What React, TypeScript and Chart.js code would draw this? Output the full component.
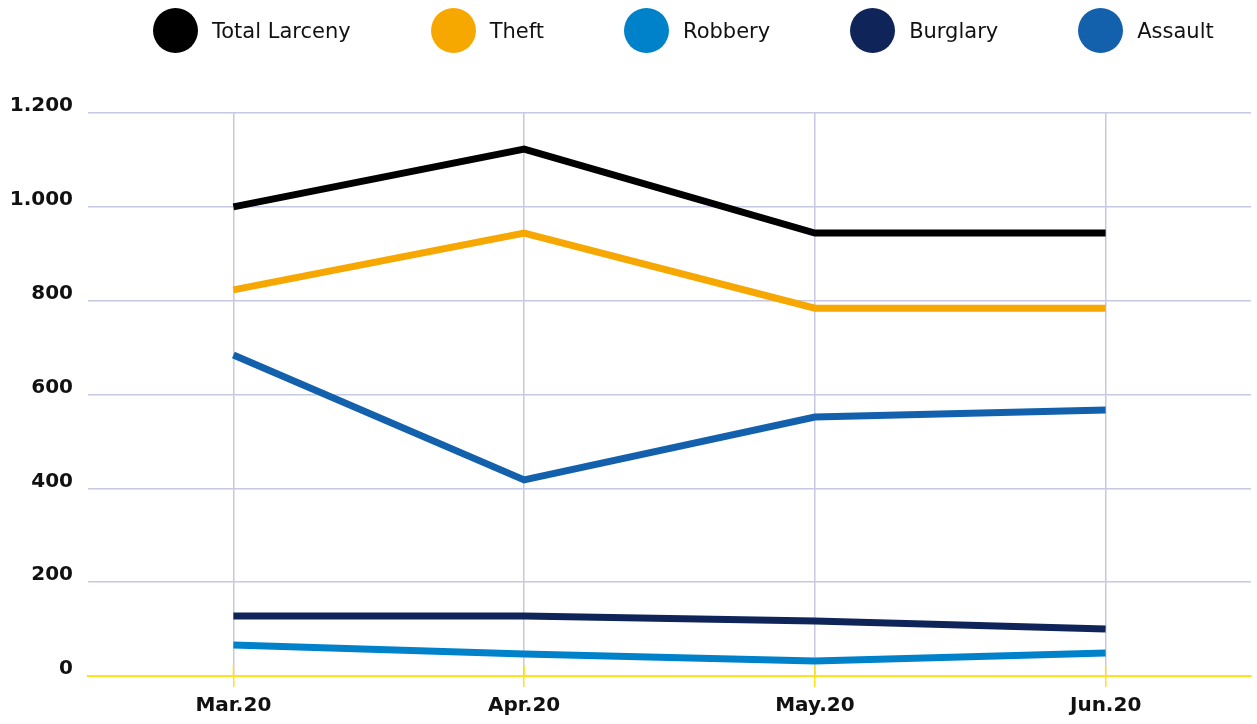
import React, { useEffect, useRef } from 'react';
import { Chart, registerables } from 'chart.js';

Chart.register(...registerables);

// ---- data ----
const categories = ['Mar.20', 'Apr.20', 'May.20', 'Jun.20'];
const totalLarceny = [1000, 1123, 944, 944];
const theft = [823, 944, 784, 784];
const robbery = [66, 47, 32, 49];
const burglary = [128, 128, 117, 100];
const assault = [684, 418, 552, 567];

const seriesNames = ['Total Larceny', 'Theft', 'Robbery', 'Burglary', 'Assault'];
const seriesValues = [totalLarceny, theft, robbery, burglary, assault];
const seriesColors = ['#000000', '#F6A800', '#0082CA', '#0F2459', '#1361AD'];

const yMin = 0;
const yMax = 1200;
const yStep = 200;

const GRID = '#C7C8E1';
const YELLOW = '#FFE21A';

const formatThousands = (v: number) =>
  String(Math.round(v)).replace(/\B(?=(\d{3})+(?!\d))/g, '.');

const axisStubs = {
  id: 'axisStubs',
  beforeDatasetsDraw(chart: any) {
    const xs = chart.scales.x;
    const { ctx, chartArea } = chart;
    ctx.save();
    ctx.strokeStyle = YELLOW;
    ctx.lineWidth = 1.5;
    for (let i = 0; i < xs.ticks.length; i++) {
      const px = xs.getPixelForTick(i);
      ctx.beginPath();
      ctx.moveTo(px, chartArea.bottom - 11);
      ctx.lineTo(px, chartArea.bottom);
      ctx.stroke();
    }
    ctx.restore();
  },
};

export default function App() {
  const canvasRef = useRef<HTMLCanvasElement | null>(null);

  useEffect(() => {
    document.body.style.margin = '0';
    const canvas = canvasRef.current;
    if (!canvas) return;
    const chart = new Chart(canvas, {
      type: 'line',
      data: {
        labels: categories,
        datasets: seriesNames.map((name, i) => ({
          label: name,
          data: seriesValues[i],
          borderColor: seriesColors[i],
          backgroundColor: seriesColors[i],
          borderWidth: 7,
          pointRadius: 0,
          pointHoverRadius: 0,
          tension: 0,
          fill: false,
          borderCapStyle: 'butt' as const,
          borderJoinStyle: 'miter' as const,
        })),
      },
      options: {
        responsive: false,
        animation: false,
        layout: { padding: { top: 113, right: 6, bottom: 0, left: 0 } },
        plugins: {
          legend: { display: false },
          tooltip: { enabled: false },
        },
        scales: {
          x: {
            offset: true,
            grid: {
              color: GRID,
              lineWidth: 1.5,
              tickColor: YELLOW,
              tickLength: 11,
              tickWidth: 1.5,
            },
            border: { display: true, color: YELLOW, width: 2 },
            ticks: {
              padding: 7,
              color: '#111111',
              font: { family: 'DejaVu Sans', size: 20, weight: 'bold' },
              maxRotation: 0,
            },
            afterFit(scale: any) {
              scale.height = 48;
            },
          },
          y: {
            min: yMin,
            max: yMax,
            grid: { color: GRID, lineWidth: 1.5, drawTicks: false },
            border: { display: false },
            ticks: {
              stepSize: yStep,
              padding: 15,
              labelOffset: -7,
              color: '#111111',
              font: { family: 'DejaVu Sans', size: 20, weight: 'bold' },
              callback: (v: any) => formatThousands(Number(v)),
            },
            afterFit(scale: any) {
              scale.width = 88;
            },
          },
        },
      },
      plugins: [axisStubs],
    });
    return () => chart.destroy();
  }, []);

  return (
    <div style={{ position: 'relative', width: 1257, height: 724, overflow: 'hidden' }}>
      <canvas ref={canvasRef} width={1257} height={724} style={{ display: 'block' }} />
      <div
        style={{
          position: 'absolute',
          left: 153,
          top: 8,
          height: 45,
          display: 'flex',
          alignItems: 'center',
          fontFamily: 'DejaVu Sans',
          fontSize: 21,
          color: '#111111',
          whiteSpace: 'nowrap',
        }}
      >
        {seriesNames.map((name, i) => (
          <div key={name} style={{ display: 'flex', alignItems: 'center', marginRight: 80 }}>
            <span
              style={{
                display: 'inline-block',
                width: 45,
                height: 45,
                borderRadius: '50%',
                background: seriesColors[i],
                marginRight: 14,
              }}
            />
            <span>{name}</span>
          </div>
        ))}
      </div>
    </div>
  );
}
